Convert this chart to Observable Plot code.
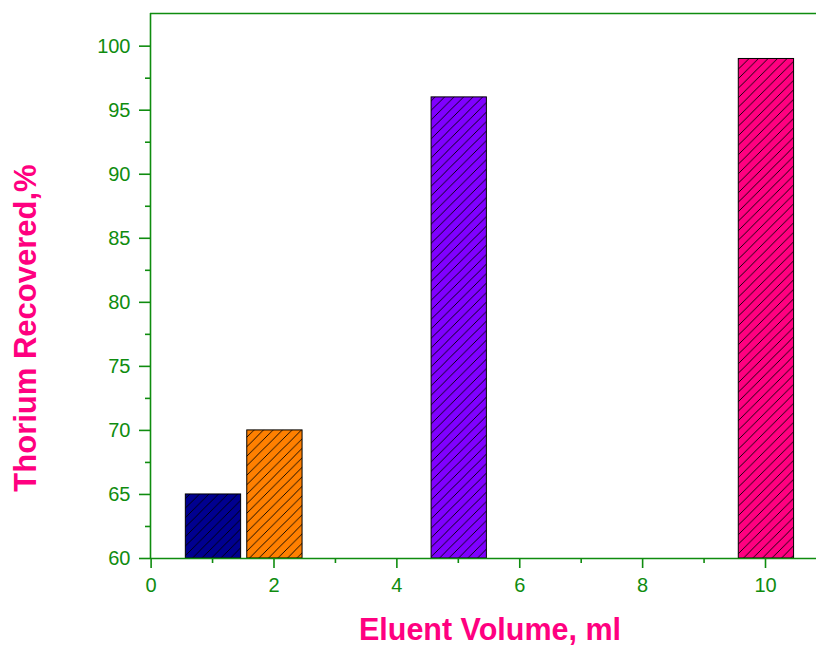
<!DOCTYPE html>
<html>
<head>
<meta charset="utf-8">
<script src="https://cdn.jsdelivr.net/npm/d3@7"></script>
<script src="https://cdn.jsdelivr.net/npm/@observablehq/plot@0.6"></script>
<style>
  html, body { margin: 0; padding: 0; background: #fff; }
  #chart { width: 816px; height: 646px; overflow: hidden; }
</style>
</head>
<body>
<div id="chart"></div>
<script>
// ---- data ----
const volumes = [1, 2, 5, 10];
const recovered = [65, 70, 96, 99];
const barColors = ["#000090", "#ff8000", "#8000ff", "#ff0080"];
const xTicks = [0, 2, 4, 6, 8, 10];
const xMinorTicks = [1, 3, 5, 7, 9];
const yTicks = [60, 65, 70, 75, 80, 85, 90, 95, 100];
const yMinorTicks = [62.5, 67.5, 72.5, 77.5, 82.5, 87.5, 92.5, 97.5];
const xTitle = "Eluent Volume, ml";
const yTitle = "Thorium Recovered,%";

// ---- layout / style ----
const green = "#0f8c0f";
const pink = "#ff0080";
const xDomain = [-0.01, 10.83];
const yDomain = [60, 102.55];
const barHalf = 0.45;

const data = volumes.map((v, i) => ({ v, r: recovered[i], c: barColors[i] }));

const svg = Plot.plot({
  width: 816,
  height: 646,
  marginLeft: 150,
  marginRight: 0,
  marginTop: 13,
  marginBottom: 88,
  style: { color: green, fontFamily: "'Liberation Sans', Arial, sans-serif", fontSize: "20px", background: "#fff" },
  x: { domain: xDomain },
  y: { domain: yDomain },
  color: { type: "identity" },
  marks: [
    Plot.rectY(data, { x1: d => d.v - barHalf + 0.015, x2: d => d.v + barHalf + 0.015, y1: yDomain[0], y2: "r", fill: "c", inset: 0 }),
    Plot.rectY(data, { x1: d => d.v - barHalf + 0.015, x2: d => d.v + barHalf + 0.015, y1: yDomain[0], y2: "r", fill: "url(#hatch)", stroke: "#000", strokeWidth: 1, inset: 0 }),
    Plot.ruleX([xDomain[0]], { stroke: green, strokeWidth: 1.6 }),
    Plot.ruleY([yDomain[0]], { stroke: green, strokeWidth: 1.6 }),
    Plot.ruleY([yDomain[1]], { stroke: green, strokeWidth: 1.6 }),
    Plot.axisX(xTicks, { tickSize: 10, tickPadding: 9, strokeWidth: 1.6, fontSize: 20, label: null }),
    Plot.axisX(xMinorTicks, { tickSize: 5, text: null, strokeWidth: 1.6, label: null }),
    Plot.axisY(yTicks, { tickSize: 11, tickPadding: 9, strokeWidth: 1.6, fontSize: 20, label: null }),
    Plot.axisY(yMinorTicks, { tickSize: 5, text: null, strokeWidth: 1.6, label: null })
  ]
});

const s = d3.select(svg);
const pat = s.insert("defs", ":first-child")
  .append("pattern")
  .attr("id", "hatch")
  .attr("patternUnits", "userSpaceOnUse")
  .attr("width", 9.5)
  .attr("height", 9.5);
pat.append("path")
  .attr("d", "M0,9.5 L9.5,0 M-2,2 L2,-2 M7.5,11.5 L11.5,7.5")
  .attr("stroke", "#000")
  .attr("stroke-width", 0.9)
  .attr("fill", "none");

s.append("text")
  .attr("transform", "translate(25,328) rotate(-90)")
  .attr("text-anchor", "middle")
  .attr("dy", "0.36em")
  .attr("fill", pink)
  .attr("font-weight", "bold")
  .attr("font-size", 31)
  .text(yTitle);

s.append("text")
  .attr("x", 490)
  .attr("y", 640)
  .attr("text-anchor", "middle")
  .attr("fill", pink)
  .attr("font-weight", "bold")
  .attr("font-size", 30.5)
  .text(xTitle);

document.getElementById("chart").appendChild(svg);
</script>
</body>
</html>
